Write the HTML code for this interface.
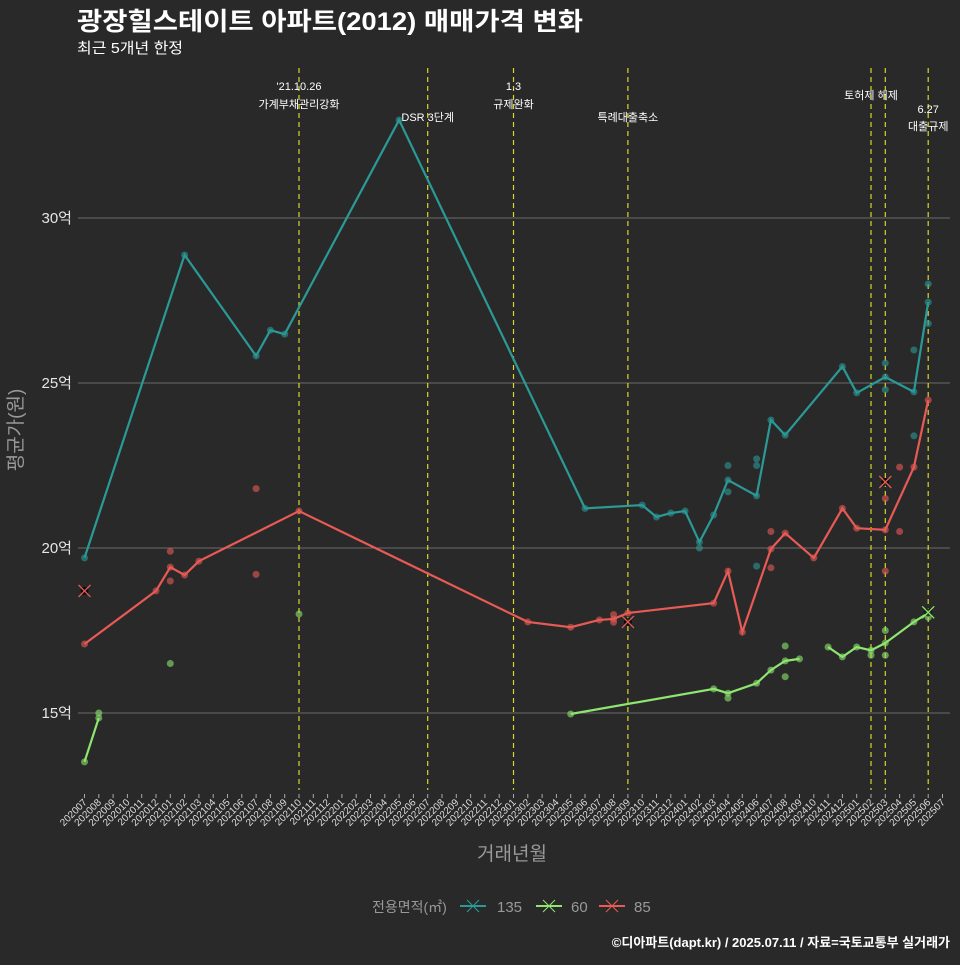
<!DOCTYPE html>
<html><head><meta charset="utf-8"><style>
body{margin:0;background:#2a292a;}
svg text{font-family:"Liberation Sans","Noto Sans CJK KR",sans-serif;}
</style></head><body>
<svg id="c" width="960" height="960" xmlns="http://www.w3.org/2000/svg">
<rect width="960" height="960" fill="#2a292a"/>
<text x="77" y="30" fill="#fff" font-size="25" font-weight="bold" textLength="506" lengthAdjust="spacingAndGlyphs">광장힐스테이트 아파트(2012) 매매가격 변화</text>
<text x="77" y="53" fill="#fff" font-size="15" textLength="106" lengthAdjust="spacingAndGlyphs">최근 5개년 한정</text>
<g id="grid"></g><g id="vlines"></g><g id="series"></g><g id="xaxis"></g><g id="yaxis"></g>
<text x="512" y="860" fill="#999" font-size="19" text-anchor="middle">거래년월</text>
<text transform="translate(22,430) rotate(-90)" fill="#999" font-size="19" text-anchor="middle">평균가(원)</text>
<g>
<text x="372" y="912" fill="#999" font-size="14">전용면적(㎡)</text>
<g><line x1="460" y1="906" x2="486" y2="906" stroke="#2a9a96" stroke-width="2"/><path d="M467 900 L479 912 M479 900 L467 912" stroke="#2a9a96"/><text x="497" y="912" fill="#999" font-size="15">135</text></g>
<g><line x1="536" y1="906" x2="562" y2="906" stroke="#8ee66f" stroke-width="2"/><path d="M543 900 L555 912 M555 900 L543 912" stroke="#8ee66f"/><text x="571" y="912" fill="#999" font-size="15">60</text></g>
<g><line x1="599" y1="906" x2="625" y2="906" stroke="#e85a55" stroke-width="2"/><path d="M606 900 L618 912 M618 900 L606 912" stroke="#e85a55"/><text x="634" y="912" fill="#999" font-size="15">85</text></g>
</g>
<text x="950" y="947" fill="#fff" font-size="13" font-weight="bold" text-anchor="end">©디아파트(dapt.kr) / 2025.07.11 / 자료=국토교통부 실거래가</text>
</svg>
<script>
const months=[];for(let y=2020,m=7;y*100+m<=202507;){months.push(y+''+String(m).padStart(2,'0'));m++;if(m>12){m=1;y++;}}
const yTicks=[15,20,25,30];
const yTickLabels=['15억','20억','25억','30억'];
const line135=[[0,19.7],[7,28.88],[12,25.82],[13,26.6],[14,26.48],[22,32.97],[35,21.2],[39,21.3],[40,20.94],[41,21.06],[42,21.12],[43,20.18],[44,21.0],[45,22.06],[47,21.58],[48,23.88],[49,23.42],[53,25.5],[54,24.7],[56,25.18],[58,24.73],[59,27.45]];
const pts135=[[43,20.0],[45,22.5],[45,21.7],[47,22.7],[47,22.5],[47,19.45],[56,25.6],[56,24.8],[58,26.0],[58,23.4],[59,28.0],[59,26.8]];
const line85=[[0,17.09],[5,18.7],[6,19.42],[7,19.18],[8,19.6],[15,21.12],[31,17.76],[34,17.6],[36,17.82],[37,17.85],[38,18.03],[44,18.33],[45,19.3],[46,17.45],[48,19.97],[49,20.45],[51,19.7],[53,21.2],[54,20.6],[56,20.55],[58,22.45],[59,24.48]];
const pts85=[[6,19.9],[6,19.0],[12,21.8],[12,19.2],[37,17.98],[37,17.75],[48,20.5],[48,19.4],[56,21.5],[56,19.3],[57,22.45],[57,20.5]];
const cross85=[[0,18.7],[38,17.76],[56,22.0]];
const line60a=[[0,13.52],[1,14.85]];
const line60b=[[34,14.97],[44,15.73],[45,15.6],[47,15.9],[48,16.3],[49,16.58],[50,16.64]];
const line60c=[[52,17.0],[53,16.7],[54,17.0],[55,16.9],[56,17.12],[58,17.76],[59,18.03]];
const pts60=[[1,15.0],[6,16.5],[15,18.0],[45,15.45],[49,17.03],[49,16.1],[55,16.75],[56,17.5],[56,16.75],[59,17.9]];
const cross60=[[59,18.05]];
const events=[15,24,30,38,55,56,59];
const eventLabels=[["'21.10.26","가계부채관리강화"],["DSR 3단계"],["1.3","규제완화"],["특례대출축소"],["토허제 해제"],[],["6.27","대출규제"]];
const eventLabelY=[[90,108],[121],[90,108],[121],[99],[],[113,130]];
const NS='http://www.w3.org/2000/svg';
const X=i=>84.5+i*14.3, Y=v=>218+(30-v)*33;
function mk(p,t,a){const e=document.createElementNS(NS,t);for(const k in a)e.setAttribute(k,a[k]);p.appendChild(e);return e;}
const grid=document.getElementById('grid'),yax=document.getElementById('yaxis');
yTicks.forEach((v,i)=>{const l=mk(grid,'line',{x1:78,x2:950,y1:Y(v),y2:Y(v),stroke:'#6a6a6a','stroke-width':1});


const t=mk(yax,'text',{x:72,y:Y(v)+5,fill:'#e6e6e6','font-size':15,'text-anchor':'end'});t.textContent=yTickLabels[i];

});
const vl=document.getElementById('vlines');
events.forEach((m,i)=>{const l=mk(vl,'line',{x1:X(m),x2:X(m),y1:68,y2:790,stroke:'#d8d82a','stroke-width':1.2,'stroke-dasharray':'5,4'});


eventLabels[i].forEach((s,j)=>{const t=mk(vl,'text',{x:X(m),y:eventLabelY[i][j],fill:'#fff','font-size':11,'text-anchor':'middle'});t.textContent=s;

});});
const xa=document.getElementById('xaxis');
months.forEach((m,i)=>{const tk=mk(xa,'line',{x1:X(i),x2:X(i),y1:794,y2:798,stroke:'#aaa'});


const t=mk(xa,'text',{transform:`translate(${X(i)+3},803) rotate(-45)`,fill:'#ddd','font-size':10,'text-anchor':'end'});t.textContent=m;

});
const sg=document.getElementById('series');
function line(arr,c,n){const p=mk(sg,'polyline',{points:arr.map(d=>X(d[0])+','+Y(d[1])).join(' '),fill:'none',stroke:c,'stroke-width':2.2});


arr.forEach(d=>{const e=mk(sg,'circle',{cx:X(d[0]),cy:Y(d[1]),r:3.5,fill:c,opacity:0.6});

});}
function pts(arr,c){arr.forEach(d=>{const e=mk(sg,'circle',{cx:X(d[0]),cy:Y(d[1]),r:3.5,fill:c,opacity:0.6});

});}
function cross(arr,c){arr.forEach(d=>{const x=X(d[0]),y=Y(d[1]);const b=mk(sg,'circle',{cx:x,cy:y,r:4,fill:'#000',opacity:0.7});


const e=mk(sg,'path',{d:`M${x-6} ${y-6}L${x+6} ${y+6}M${x+6} ${y-6}L${x-6} ${y+6}`,stroke:c,'stroke-width':1.3});

});}
pts(pts135,'#2a9a96');line(line135,'#2a9a96','line-135');
pts(pts85,'#e85a55');line(line85,'#e85a55','line-85');cross(cross85,'#e85a55');
pts(pts60,'#8ee66f');line(line60a,'#8ee66f','line-60');line(line60b,'#8ee66f','line-60');line(line60c,'#8ee66f','line-60');cross(cross60,'#8ee66f');
</script>
</body></html>
